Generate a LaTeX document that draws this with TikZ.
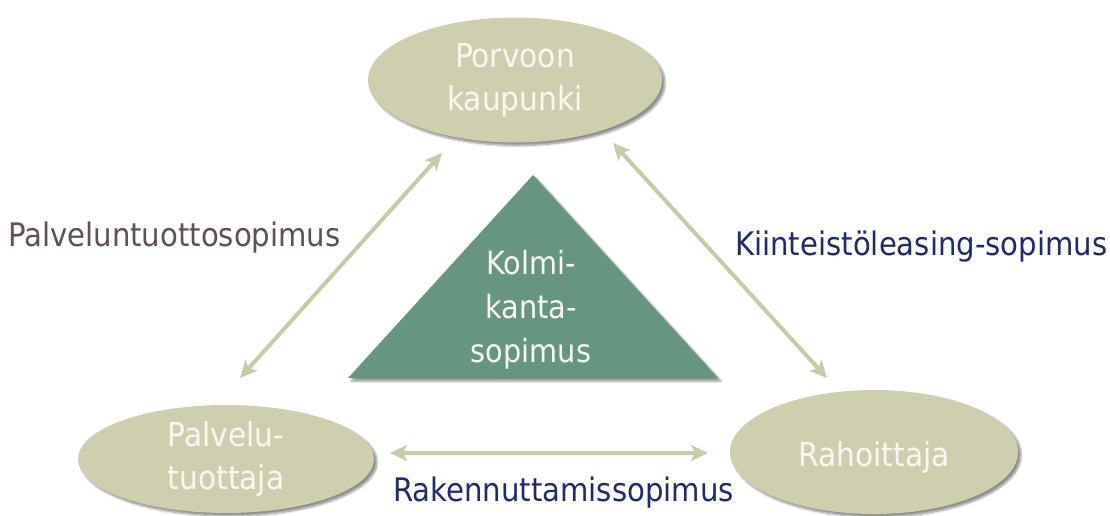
\documentclass[tikz,border=0pt]{standalone}
\usepackage{fontspec}
\setmainfont{DejaVu Sans Condensed}
\usetikzlibrary{shapes.geometric,arrows.meta,shadows.blur}
\definecolor{ellfill}{HTML}{CDCFAF}
\definecolor{arrcol}{HTML}{C8CBA8}
\definecolor{trifill}{HTML}{669680}
\definecolor{navy}{HTML}{1C2A6E}
\definecolor{brownish}{HTML}{5E5056}
\definecolor{paletext}{HTML}{F8F8F0}
\tikzset{
  party/.style={ellipse, fill=ellfill, text=paletext, align=center,
    font=\fontsize{33}{43}\selectfont, inner sep=0pt,
    blur shadow={shadow xshift=3pt, shadow yshift=-3pt, shadow blur steps=6, shadow opacity=45}},
  link/.style={draw=arrcol, line width=4pt, {Stealth[length=17pt,width=16pt,inset=4pt]}-{Stealth[length=17pt,width=16pt,inset=4pt]}},
  lbl/.style={font=\fontsize{32.4}{36}\selectfont, inner sep=0pt},
  tritext/.style={text=paletext, align=center, font=\fontsize{32}{44}\selectfont}
}
\begin{document}
\begin{tikzpicture}[x=1pt,y=-1pt]
\useasboundingbox (0,0) rectangle (1110,515);
% ellipses
\node[party, minimum width=294pt, minimum height=125pt] (city) at (515,80) {Porvoon\\kaupunki};
\node[party, minimum width=296pt, minimum height=108pt] (prov) at (226,459) {Palvelu-\\tuottaja};
\node[party, minimum width=288pt, minimum height=124pt] (fin) at (874,452) {};
\node[text=paletext, font=\fontsize{33}{43}\selectfont] (fintext) at (874,457) {Rahoittaja};
% triangle
\path[fill=trifill, blur shadow={shadow xshift=3pt, shadow yshift=-3pt, shadow blur steps=6, shadow opacity=45}]
  (533,175) -- (718,378) -- (348,378) -- cycle;
\node[tritext] (tri) at (531,310) {Kolmi-\\kanta-\\sopimus};
% arrow ends
\coordinate (a1) at (442,153);
\coordinate (a2) at (240,378);
\coordinate (b1) at (613,143);
\coordinate (b2) at (827,378);
\coordinate (c1) at (390,453);
\coordinate (c2) at (708,453);
\draw[link] (a2) -- (a1);
\draw[link] (b1) -- (b2);
\draw[link] (c1) -- (c2);
% labels
\node[lbl, text=brownish, anchor=west] (l1) at (8,238) {Palveluntuottosopimus};
\node[lbl, text=navy, anchor=west] (l2) at (735,247) {Kiinteistöleasing-sopimus};
\node[lbl, text=navy, anchor=west] (l3) at (393,493) {Rakennuttamissopimus};
\end{tikzpicture}
\end{document}
